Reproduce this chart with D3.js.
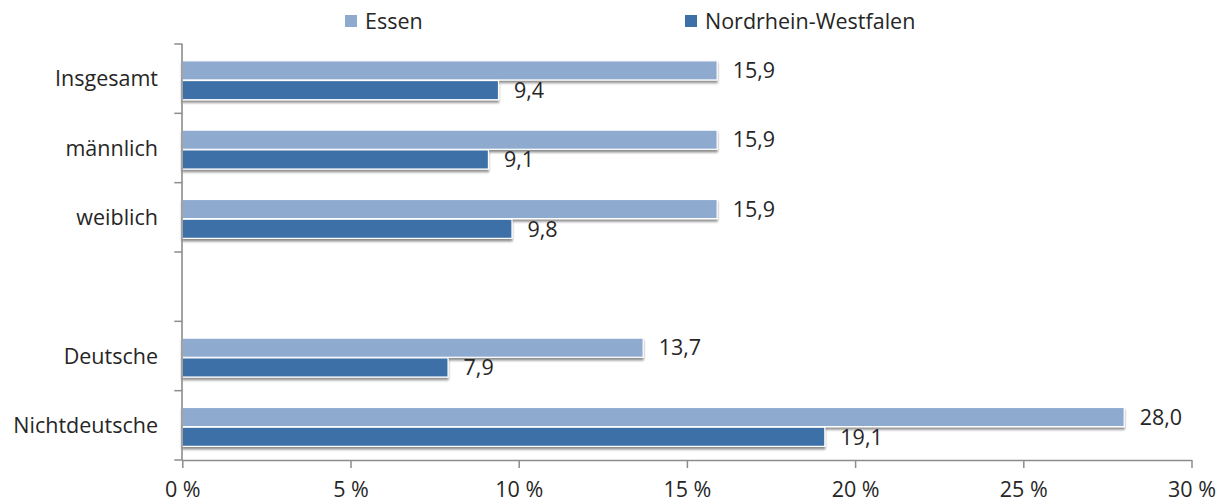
<!DOCTYPE html>
<html>
<head>
<meta charset="utf-8">
<script src="https://cdn.jsdelivr.net/npm/d3@7"></script>
<style>
  body { margin: 0; background: #fff; }
  text { font-family: "Open Sans", sans-serif; fill: #262626; }
</style>
</head>
<body>
<div id="chart"></div>
<script>
// chart data
const categories = ["Insgesamt", "männlich", "weiblich", "", "Deutsche", "Nichtdeutsche"];
const seriesNames = ["Essen", "Nordrhein-Westfalen"];
const essen = [15.9, 15.9, 15.9, null, 13.7, 28.0];
const nrw = [9.4, 9.1, 9.8, null, 7.9, 19.1];
const xTicks = [0, 5, 10, 15, 20, 25, 30];
const colors = ["#8faacf", "#3d70a6"];

const width = 1227;
const height = 504;
const fontSize = 21.5;

const svg = d3
  .select("#chart")
  .append("svg")
  .attr("width", width)
  .attr("height", height);

//shadow under bars
const defs = svg.append("defs");
defs
  .append("filter")
  .attr("id", "shadow")
  .attr("x", "-5%")
  .attr("y", "-30%")
  .attr("width", "110%")
  .attr("height", "170%")
  .append("feDropShadow")
  .attr("dx", 0)
  .attr("dy", 2.5)
  .attr("stdDeviation", 1.3)
  .attr("flood-color", "#000")
  .attr("flood-opacity", 0.45);

const x = d3.scaleLinear().domain([0, 30]).range([182.3, 1191.5]);
const y = d3.scaleBand().domain(d3.range(categories.length)).range([44, 460]);
const sub = d3.scaleBand().domain(seriesNames).range([16.5, 56]);

const rows = categories.map((c, i) => ({
  cat: c,
  i: i,
  values: [essen[i], nrw[i]],
}));

//bars
const barData = [];
rows.forEach((r) => {
  r.values.forEach((v, j) => {
    if (v !== null) barData.push({ i: r.i, s: seriesNames[j], j: j, v: v });
  });
});

svg
  .append("g")
  .selectAll("rect")
  .data(barData)
  .enter()
  .append("rect")
  .attr("x", x(0))
  .attr("y", (d) => y(d.i) + sub(d.s) + 0.3)
  .attr("width", (d) => x(d.v) - x(0))
  .attr("height", sub.bandwidth() - 0.6)
  .attr("fill", (d) => colors[d.j])
  .attr("stroke", "#fff")
  .attr("stroke-width", 1.2)
  .attr("filter", "url(#shadow)");

//value labels
svg
  .append("g")
  .selectAll("text")
  .data(barData)
  .enter()
  .append("text")
  .attr("x", (d) => x(d.v) + 15.5)
  .attr("y", (d) => y(d.i) + sub(d.s) + sub.bandwidth() / 2)
  .attr("dy", "0.36em")
  .style("font-size", fontSize + "px")
  .text((d) => d3.format(".1f")(d.v).replace(".", ","));

//y axis
const axisColor = "#8c8c8c";
const yAxis = svg.append("g");
yAxis
  .append("line")
  .attr("x1", x(0) - 0.3)
  .attr("x2", x(0) - 0.3)
  .attr("y1", 44)
  .attr("y2", 460)
  .attr("stroke", axisColor)
  .attr("stroke-width", 1.6);
const yBounds = categories.map((c, i) => y(i)).concat([460]);
yAxis
  .selectAll(".ytick")
  .data(yBounds)
  .enter()
  .append("line")
  .attr("x1", x(0) - 8)
  .attr("x2", x(0))
  .attr("y1", (d) => d)
  .attr("y2", (d) => d)
  .attr("stroke", axisColor)
  .attr("stroke-width", 1.5);
yAxis
  .selectAll(".ylabel")
  .data(rows)
  .enter()
  .append("text")
  .attr("x", 158)
  .attr("y", (d) => y(d.i) + y.bandwidth() / 2)
  .attr("dy", "0.36em")
  .attr("text-anchor", "end")
  .style("font-size", fontSize + "px")
  .text((d) => d.cat);

//x axis
const xAxis = svg
  .append("g")
  .attr("transform", "translate(0,460)")
  .call(
    d3
      .axisBottom(x)
      .tickValues(xTicks)
      .tickSize(8)
      .tickSizeOuter(0)
      .tickPadding(14)
      .tickFormat((d) => d + " %")
  );
xAxis.select(".domain").attr("stroke", axisColor).attr("stroke-width", 1.6);
xAxis.selectAll(".tick line").attr("stroke", axisColor).attr("stroke-width", 1.5);
xAxis
  .selectAll(".tick text")
  .style("font-size", fontSize + "px")
  .style("font-family", "'Open Sans', sans-serif")
  .attr("fill", "#262626");

//legend
const legendX = [345, 685];
const legend = svg
  .append("g")
  .selectAll("g")
  .data(seriesNames)
  .enter()
  .append("g")
  .attr("transform", (d, i) => `translate(${legendX[i]},15)`);
legend
  .append("rect")
  .attr("width", 12)
  .attr("height", 12)
  .attr("fill", (d, i) => colors[i]);
legend
  .append("text")
  .attr("x", 20)
  .attr("y", 13.5)
  .style("font-size", fontSize + "px")
  .text((d) => d);
</script>
</body>
</html>
